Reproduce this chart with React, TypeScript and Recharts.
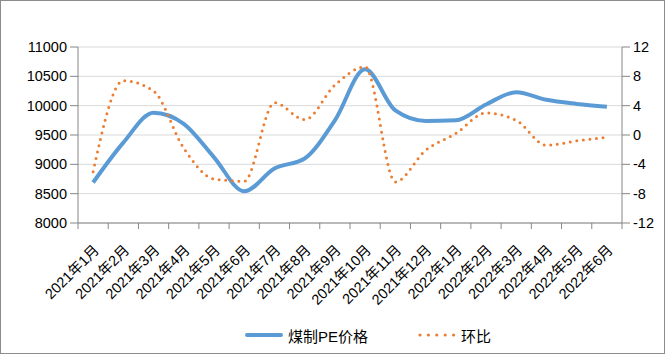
import React from 'react';
import { LineChart, Line, XAxis, YAxis, CartesianGrid, Legend } from 'recharts';

const months = [
    '2021年1月', '2021年2月', '2021年3月', '2021年4月', '2021年5月', '2021年6月',
    '2021年7月', '2021年8月', '2021年9月', '2021年10月', '2021年11月', '2021年12月',
    '2022年1月', '2022年2月', '2022年3月', '2022年4月', '2022年5月', '2022年6月',
];
const pePrice = [8690, 9370, 9880, 9690, 9120, 8540, 8930, 9100, 9750, 10620, 9920, 9740, 9750, 10020, 10230, 10100, 10030, 9980];
const momChange = [-5.0, 7.4, 6.0, -1.8, -6.0, -6.3, 4.4, 2.1, 6.8, 9.3, -6.4, -2.1, 0.2, 3.0, 2.0, -1.4, -0.8, -0.3];
const leftTicks = [8000, 8500, 9000, 9500, 10000, 10500, 11000];
const rightTicks = [-12, -8, -4, 0, 4, 8, 12];

const data = months.map((m, i) => ({ month: m, price: pePrice[i], mom: momChange[i] }));

const FONT = '"Liberation Sans", "Noto Sans CJK SC", sans-serif';
const AXIS_COLOR = '#868686';
const BLUE = '#5b9bd5';
const ORANGE = '#ed7d31';

const CHART_W = 663;
const CHART_H = 352;
const LEFT_W = 77;
const RIGHT_W = 42;
const STEP = (CHART_W - LEFT_W - RIGHT_W) / months.length;

// label at category centre, tick mark on the category boundary
const MonthTick = (props: any) => {
    const { x, y, payload, index } = props;
    const top = y - 8;
    const ax = x + 7;
    const ay = top + 28;
    return (
        <g>
            <line x1={x - STEP / 2} y1={top} x2={x - STEP / 2} y2={top + 6} stroke={AXIS_COLOR} />
            {index === months.length - 1 && (
                <line x1={x + STEP / 2} y1={top} x2={x + STEP / 2} y2={top + 6} stroke={AXIS_COLOR} />
            )}
            <text
                x={ax}
                y={ay}
                textAnchor="end"
                fill="#000"
                fontSize={14.5}
                fontFamily={FONT}
                transform={`rotate(-45, ${ax}, ${ay})`}
            >
                {payload.value}
            </text>
        </g>
    );
};

const LegendBox = () => (
    <div style={{ height: 30, display: 'flex', alignItems: 'center', paddingLeft: 244, fontFamily: FONT, fontSize: 15, color: '#000' }}>
        <svg width={38} height={10} style={{ marginRight: 5 }}>
            <line x1={2} y1={5} x2={36} y2={5} stroke={BLUE} strokeWidth={4} strokeLinecap="round" />
        </svg>
        <span style={{ marginRight: 50 }}>煤制PE价格</span>
        <svg width={38} height={10} style={{ marginRight: 5 }}>
            {[0, 1, 2, 3, 4].map(i => (
                <circle key={i} cx={2 + i * 8.4} cy={5} r={1.6} fill={ORANGE} />
            ))}
        </svg>
        <span>环比</span>
    </div>
);

export default function App() {
    return (
        <div style={{ position: 'absolute', left: 0, top: 0, width: 665, height: 354, boxSizing: 'border-box', border: '1px solid #8c8c8c', background: '#fff' }}>
            <LineChart width={CHART_W} height={CHART_H} data={data} margin={{ top: 46, right: 0, bottom: 3, left: 0 }}>
                <CartesianGrid yAxisId="left" vertical={false} stroke="#d9d9d9" />
                <XAxis
                    dataKey="month"
                    interval={0}
                    height={97}
                    padding={{ left: STEP / 2, right: STEP / 2 }}
                    stroke={AXIS_COLOR}
                    tickLine={false}
                    tickSize={6}
                    tickMargin={2}
                    tick={<MonthTick />}
                />
                <YAxis
                    yAxisId="left"
                    width={LEFT_W}
                    domain={[8000, 11000]}
                    ticks={leftTicks}
                    stroke={AXIS_COLOR}
                    tickSize={8}
                    tickMargin={3}
                    tick={{ fill: '#000', fontSize: 14.5, fontFamily: FONT }}
                />
                <YAxis
                    yAxisId="right"
                    orientation="right"
                    width={RIGHT_W}
                    domain={[-12, 12]}
                    ticks={rightTicks}
                    stroke={AXIS_COLOR}
                    tickSize={8}
                    tickMargin={3}
                    tick={{ fill: '#000', fontSize: 14.5, fontFamily: FONT }}
                />
                <Legend verticalAlign="bottom" content={<LegendBox />} />
                <Line
                    yAxisId="left"
                    type="monotone"
                    dataKey="price"
                    name="煤制PE价格"
                    stroke={BLUE}
                    strokeWidth={4}
                    dot={false}
                    isAnimationActive={false}
                />
                <Line
                    yAxisId="right"
                    type="monotone"
                    dataKey="mom"
                    name="环比"
                    stroke={ORANGE}
                    strokeWidth={3}
                    strokeDasharray="0 6.6"
                    strokeLinecap="round"
                    dot={false}
                    isAnimationActive={false}
                />
            </LineChart>
        </div>
    );
}
